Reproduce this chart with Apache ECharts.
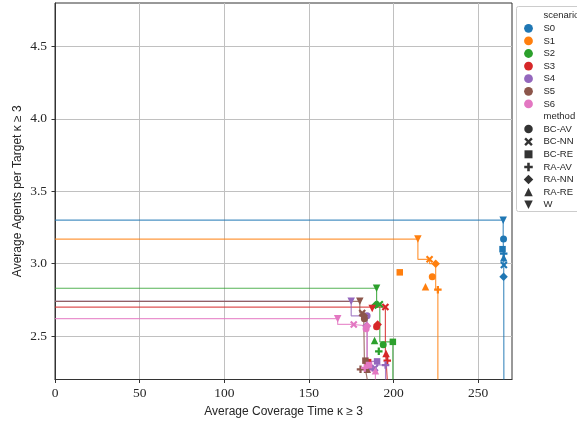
<!DOCTYPE html>
<html><head><meta charset="utf-8">
<script src="https://cdn.jsdelivr.net/npm/echarts@6/dist/echarts.min.js"></script>
<style>html,body{margin:0;padding:0;background:#fff}#c{width:577px;height:423px}</style>
</head><body><div id="c"></div>
<script>
// ---- data ----
const scenarios = ['S0','S1','S2','S3','S4','S5','S6'];
const methods = ['BC-AV','BC-NN','BC-RE','RA-AV','RA-NN','RA-RE','W'];
// [coverage time, agents per target] in method order
const S0 = [[265.0,3.17],[265.2,2.99],[264.4,3.10],[265.1,3.07],[265.0,2.91],[265.1,3.04],[264.8,3.30]];
const S1 = [[222.9,2.91],[221.3,3.03],[203.7,2.94],[226.2,2.82],[224.9,3.00],[218.9,2.84],[214.4,3.17]];
const S2 = [[193.9,2.44],[191.9,2.72],[199.6,2.46],[191.3,2.395],[189.4,2.715],[188.8,2.47],[190.0,2.83]];
const S3 = [[190.0,2.565],[195.2,2.70],[185.0,2.32],[196.3,2.33],[190.6,2.58],[195.6,2.38],[187.4,2.69]];
const S4 = [[184.4,2.64],[189.0,2.28],[190.3,2.325],[195.3,2.30],[184.0,2.57],[186.5,2.29],[175.0,2.74]];
const S5 = [[182.8,2.62],[181.5,2.66],[183.4,2.33],[180.5,2.27],[182.4,2.64],[184.5,2.27],[180.1,2.74]];
const S6 = [[183.8,2.55],[176.5,2.58],[185.5,2.30],[183.0,2.28],[184.4,2.57],[189.3,2.26],[167.0,2.62]];
const xTicks = [0,50,100,150,200,250];
const yTicks = [2.5,3.0,3.5,4.0,4.5];

// ---- styles ----
const allData = [S0,S1,S2,S3,S4,S5,S6];
const palette = ['#1f77b4','#ff7f0e','#2ca02c','#d62728','#9467bd','#8c564b','#e377c2'];
const P_X = 'M0,2L2,0L5,3L8,0L10,2L7,5L10,8L8,10L5,7L2,10L0,8L3,5Z';
const P_PLUS = 'M3.5,0H6.5V3.5H10V6.5H6.5V10H3.5V6.5H0V3.5H3.5Z';
const P_TRID = 'M0,0H10L5,10Z';
const symNames = ['circle','path://'+P_X,'rect','path://'+P_PLUS,'diamond','triangle','path://'+P_TRID];
const symSizes = [7,7.5,6.5,7.5,8.5,7.5,7.5];
// legend polygons in 10x10 unit box (null = circle)
const legPolys = [null,
  [[0,2],[2,0],[5,3],[8,0],[10,2],[7,5],[10,8],[8,10],[5,7],[2,10],[0,8],[3,5]],
  [[0,0],[10,0],[10,10],[0,10]],
  [[3.5,0],[6.5,0],[6.5,3.5],[10,3.5],[10,6.5],[6.5,6.5],[6.5,10],[3.5,10],[3.5,6.5],[0,6.5],[0,3.5],[3.5,3.5]],
  [[5,0],[10,5],[5,10],[0,5]],
  [[5,0],[10,10],[0,10]],
  [[0,0],[10,0],[5,10]]];
const legSizes = [8.5,8.5,8,8.5,9.5,8.5,8.5];
const xMin=0,xMax=270,yMin=2.2,yMax=4.8;

function front(pts){
  const s = pts.slice().sort((a,b)=> b[1]-a[1] || b[0]-a[0]);
  const f=[]; let mx=-Infinity;
  for(const p of s){ if(p[0]>mx){ f.push(p); mx=p[0]; } }
  const path=[[xMin,f[0][1]]];
  f.forEach((p,i)=>{ if(i>0) path.push([f[i-1][0],p[1]]); path.push(p); });
  path.push([f[f.length-1][0],yMin]);
  return path;
}

const series=[];
allData.forEach((pts,i)=>{
  series.push({type:'line',data:front(pts),showSymbol:false,silent:true,z:2,
    lineStyle:{color:palette[i],width:1.2,opacity:0.8},animation:false});
});
allData.forEach((pts,i)=>{
  series.push({type:'scatter',name:scenarios[i],z:3,animation:false,
    itemStyle:{color:palette[i],opacity:1},
    data:pts.map((p,j)=>({value:p,symbol:symNames[j],symbolSize:symSizes[j]}))});
});

// legend as graphic
const LX=528.5, TX=543.5, Y0=28.3, DY=12.6;
const font='9.5px "Liberation Sans", Arial, sans-serif';
const g=[{type:'rect',shape:{x:516.5,y:6.5,width:80,height:205,r:2},style:{fill:'rgba(255,255,255,0.8)',stroke:'#cccccc',lineWidth:1},z:10}];
g.push({type:'text',x:TX,y:Y0-DY,style:{text:'scenario',font:font,fill:'#262626',verticalAlign:'middle'},z:11});
scenarios.forEach((s,i)=>{
  const y=Y0+i*DY;
  g.push({type:'circle',shape:{cx:LX,cy:y,r:4.4},style:{fill:palette[i]},z:11});
  g.push({type:'text',x:TX,y:y,style:{text:s,font:font,fill:'#262626',verticalAlign:'middle'},z:11});
});
g.push({type:'text',x:TX,y:Y0+7*DY,style:{text:'method',font:font,fill:'#262626',verticalAlign:'middle'},z:11});
methods.forEach((m,j)=>{
  const y=Y0+(8+j)*DY, s=legSizes[j];
  if(legPolys[j]===null){
    g.push({type:'circle',shape:{cx:LX,cy:y,r:s/2},style:{fill:'#333333'},z:11});
  } else {
    const pts=legPolys[j].map(p=>[LX-s/2+p[0]*s/10, y-s/2+p[1]*s/10]);
    g.push({type:'polygon',shape:{points:pts},style:{fill:'#333333'},z:11});
  }
  g.push({type:'text',x:TX,y:y,style:{text:m,font:font,fill:'#262626',verticalAlign:'middle'},z:11});
});

const axisCol='#333333';
const chart=echarts.init(document.getElementById('c'),null,{renderer:'canvas'});
chart.setOption({
  animation:false,
  backgroundColor:'#ffffff',
  grid:{left:55,right:65,top:3,bottom:43,show:true,borderColor:axisCol,borderWidth:1,backgroundColor:'transparent'},
  xAxis:{type:'value',min:xMin,max:xMax,interval:50,
    name:'Average Coverage Time \u03ba \u2265 3',nameLocation:'middle',nameGap:26.5,nameMoveOverlap:false,
    nameTextStyle:{fontFamily:'Liberation Sans',fontSize:12,color:'#262626'},
    axisLine:{show:true,lineStyle:{color:axisCol,width:1}},
    axisTick:{show:true,length:3.5,lineStyle:{color:axisCol},customValues:xTicks},
    axisLabel:{margin:7,fontFamily:'Liberation Serif',fontSize:13.5,color:'#262626',customValues:xTicks,formatter:v=>String(v)},
    splitLine:{show:true,lineStyle:{color:'#c0c0c0',width:1}}},
  yAxis:{type:'value',min:yMin,max:yMax,
    name:'Average Agents per Target \u03ba \u2265 3',nameLocation:'middle',nameGap:31,nameMoveOverlap:false,
    nameTextStyle:{fontFamily:'Liberation Sans',fontSize:12,color:'#262626'},
    axisLine:{show:true,lineStyle:{color:axisCol,width:1}},
    axisTick:{show:true,length:3.5,lineStyle:{color:axisCol},customValues:yTicks},
    axisLabel:{margin:8,fontFamily:'Liberation Serif',fontSize:13.5,color:'#262626',customValues:yTicks,formatter:v=>v.toFixed(1)},
    splitLine:{show:true,lineStyle:{color:'#c0c0c0',width:1}}},
  series:series,
  graphic:g
});
</script></body></html>
